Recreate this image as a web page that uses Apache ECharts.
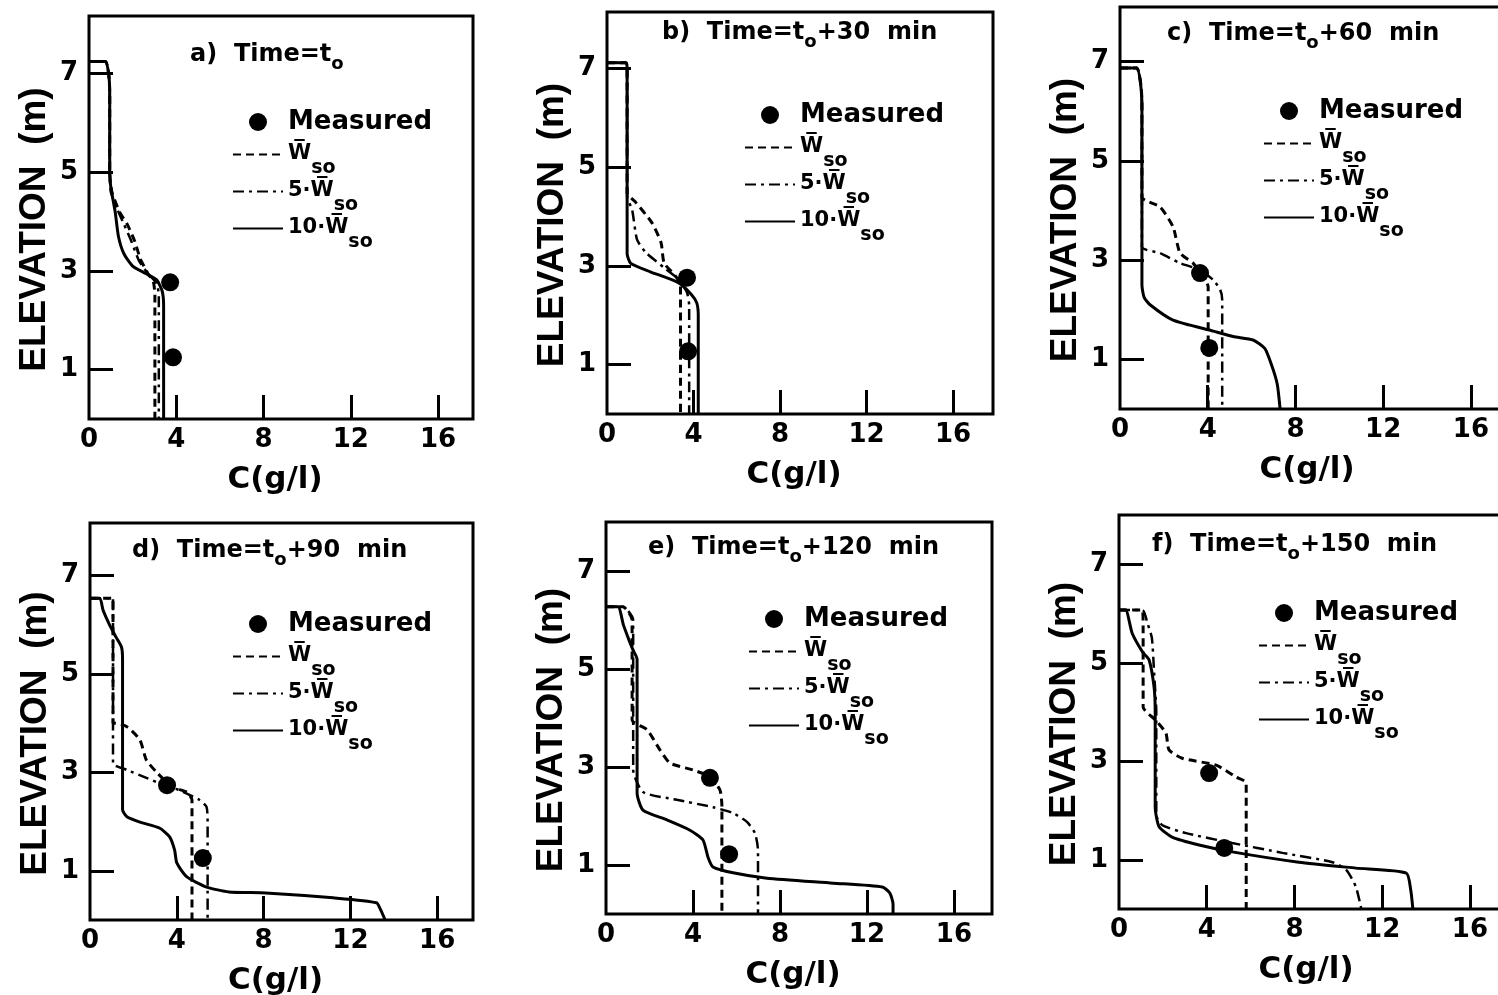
<!DOCTYPE html>
<html>
<head>
<meta charset="utf-8">
<script src="https://cdn.jsdelivr.net/npm/echarts@6/dist/echarts.min.js"></script>
<style>html,body{margin:0;padding:0;background:#fff}#c{width:1498px;height:995px}</style>
</head>
<body>
<div id="c"></div>
<script>
// ---- data: [C (g/l), elevation (m)] ----
const xTickLabels = [0, 4, 8, 12, 16];
const yTickLabels = [1, 3, 5, 7];
const panelLetters = ['a', 'b', 'c', 'd', 'e', 'f'];
const panelMinutes = [null, 30, 60, 90, 120, 150];

const aMeasured = [[3.72, 2.77], [3.85, 1.25]];
const aW1  = [[0,7.25],[0.75,7.25],[0.9,7.0],[0.95,6.6],[0.95,5.0],[1.05,4.6],[1.4,4.2],[1.75,3.95],[2.1,3.6],[2.35,3.25],[2.7,2.95],[2.95,2.78],[3.02,2.5],[3.02,0]];
const aW5  = [[0,7.25],[0.75,7.25],[0.9,7.0],[0.95,6.6],[0.95,5.0],[1.0,4.6],[1.3,4.25],[1.6,3.95],[1.9,3.65],[2.3,3.2],[2.7,2.95],[3.1,2.75],[3.2,2.5],[3.2,0]];
const aW10 = [[0,7.25],[0.75,7.25],[0.9,7.0],[0.95,6.6],[0.95,5.0],[1.0,4.7],[1.2,4.2],[1.35,3.7],[1.6,3.35],[2.0,3.1],[2.6,2.95],[3.1,2.82],[3.35,2.6],[3.42,2.3],[3.42,0]];

const bMeasured = [[3.7, 2.76], [3.75, 1.27]];
const bW1  = [[0,7.11],[0.88,7.11],[0.93,7.0],[0.93,4.48],[1.34,4.28],[2.08,3.87],[2.5,3.47],[2.64,3.06],[3.19,2.78],[3.4,2.6],[3.4,0]];
const bW5  = [[0,7.11],[0.88,7.11],[0.93,7.0],[0.93,4.4],[1.16,4.14],[1.39,3.53],[1.8,3.27],[2.73,2.93],[3.33,2.72],[3.7,2.46],[3.8,2.2],[3.8,0]];
const bW10 = [[0,7.11],[0.88,7.11],[0.93,7.0],[0.93,3.25],[1.1,3.05],[2.0,2.88],[3.3,2.66],[3.9,2.42],[4.15,2.25],[4.22,2.0],[4.22,0]];

const cMeasured = [[3.65, 2.74], [4.07, 1.23]];
const cW1  = [[0,6.87],[0.76,6.87],[0.95,6.55],[1.0,6.2],[1.0,4.27],[1.83,4.07],[2.42,3.67],[2.74,3.14],[3.33,2.94],[3.8,2.66],[4.02,2.46],[4.02,0]];
const cW5  = [[0,6.87],[0.76,6.87],[0.95,6.55],[1.0,6.2],[1.0,3.27],[1.83,3.14],[2.74,2.94],[3.65,2.8],[4.25,2.6],[4.57,2.4],[4.66,2.2],[4.66,0]];
const cW10 = [[0,6.87],[0.76,6.87],[0.95,6.5],[1.0,6.0],[1.0,2.5],[1.1,2.25],[1.37,2.1],[2.42,1.79],[4.25,1.57],[5.16,1.46],[6.07,1.39],[6.6,1.22],[6.9,0.9],[7.17,0.5],[7.3,0]];

const dMeasured = [[3.55, 2.74], [5.2, 1.26]];
const dW1  = [[0,6.54],[1.06,6.54],[1.06,4.0],[1.15,4.0],[1.7,3.93],[2.3,3.66],[2.6,3.25],[3.1,2.99],[3.8,2.7],[4.45,2.6],[4.7,2.44],[4.7,0]];
const dW5  = [[0,6.54],[1.06,6.54],[1.06,3.19],[1.7,3.05],[2.6,2.89],[3.2,2.78],[4.1,2.64],[5.05,2.44],[5.37,2.3],[5.42,2.0],[5.42,0]];
const dW10 = [[0,6.54],[0.45,6.54],[0.6,6.3],[0.9,6.0],[1.2,5.75],[1.45,5.55],[1.5,5.3],[1.5,2.24],[1.7,2.1],[2.3,1.99],[3.2,1.87],[3.67,1.69],[3.9,1.42],[4.0,1.16],[4.45,0.88],[5.37,0.67],[6.4,0.57],[8.1,0.55],[11.2,0.45],[13.2,0.35],[13.4,0.2],[13.6,0]];

const eMeasured = [[4.78, 2.78], [5.66, 1.22]];
const eW1  = [[0,6.27],[0.78,6.27],[1.2,6.0],[1.2,3.96],[1.89,3.76],[2.48,3.35],[2.94,3.08],[4.0,2.94],[4.78,2.8],[5.24,2.53],[5.33,2.2],[5.33,0]];
const eW5  = [[0,6.27],[0.78,6.27],[1.25,6.0],[1.25,2.94],[1.7,2.49],[3.26,2.33],[4.92,2.18],[5.84,2.06],[6.48,1.88],[6.85,1.65],[6.99,1.3],[6.99,0]];
const eW10 = [[0,6.27],[0.55,6.27],[0.8,5.9],[1.05,5.6],[1.24,5.39],[1.43,5.2],[1.43,2.47],[1.7,2.12],[2.8,1.92],[3.86,1.71],[4.46,1.51],[4.69,1.16],[4.92,0.96],[5.84,0.84],[7.4,0.73],[10.44,0.63],[12.7,0.55],[13.05,0.43],[13.2,0.2],[13.2,0]];

const fMeasured = [[4.11, 2.76], [4.8, 1.24]];
const fW1  = [[0,6.07],[1.07,6.07],[1.1,5.7],[1.1,4.1],[1.68,3.83],[2.14,3.57],[2.28,3.23],[2.88,3.06],[4.43,2.92],[5.34,2.68],[5.8,2.56],[5.8,0]];
const fW5  = [[0,6.07],[1.07,6.07],[1.3,5.8],[1.5,5.5],[1.6,4.8],[1.7,4.0],[1.7,1.9],[1.98,1.7],[3.06,1.54],[5.16,1.34],[7.45,1.14],[9.73,0.95],[10.37,0.79],[10.8,0.45],[11.05,0]];
const fW10 = [[0,6.07],[0.3,6.07],[0.6,5.6],[1.1,5.2],[1.37,5.06],[1.6,4.5],[1.65,4.0],[1.65,2.07],[1.83,1.67],[2.42,1.46],[3.65,1.3],[5.16,1.16],[8.2,0.95],[10.8,0.83],[13.1,0.73],[13.3,0.39],[13.4,0]];

const measuredSets = [aMeasured, bMeasured, cMeasured, dMeasured, eMeasured, fMeasured];
const w1Sets  = [aW1, bW1, cW1, dW1, eW1, fW1];
const w5Sets  = [aW5, bW5, cW5, dW5, eW5, fW5];
const w10Sets = [aW10, bW10, cW10, dW10, eW10, fW10];

// ---- layout (pixels) ----
const layout = [
  {left: 89,   top: 16,  width: 384, height: 403, xmax: 17.6,  ymax: 8.17, tl: 190,  tt: 37,  ll: 232,  lt: 104},
  {left: 607,  top: 12,  width: 386, height: 402, xmax: 17.85, ymax: 8.14, tl: 662,  tt: 15,  ll: 744,  lt: 97},
  {left: 1120, top: 7,   width: 386, height: 402, xmax: 17.6,  ymax: 8.1,  tl: 1167, tt: 16,  ll: 1263, lt: 93},
  {left: 90,   top: 523, width: 383, height: 397, xmax: 17.65, ymax: 8.07, tl: 132,  tt: 533, ll: 232,  lt: 606},
  {left: 606,  top: 522, width: 386, height: 392, xmax: 17.75, ymax: 8.0,  tl: 648,  tt: 530, ll: 748,  lt: 601},
  {left: 1119, top: 515, width: 386, height: 394, xmax: 17.6,  ymax: 8.0,  tl: 1152, tt: 527, ll: 1258, lt: 595}
];

const FONT = 'DejaVu Sans';
const OVER = 'W\u0305';
const legendText = {
  'Measured': '{m|Measured}',
  'Wso': '{w|' + OVER + '}{s|so}',
  '5Wso': '{w|5\u00B7' + OVER + '}{s|so}',
  '10Wso': '{w|10\u00B7' + OVER + '}{s|so}'
};
const noSymbol = {color: 'rgba(0,0,0,0)', borderWidth: 0, opacity: 0};

const grids = [], xAxes = [], yAxes = [], titles = [], legends = [], series = [];
layout.forEach((L, i) => {
  grids.push({left: L.left, top: L.top, width: L.width, height: L.height, show: true,
    outerBoundsMode: 'none', containLabel: false,
    borderColor: '#000', borderWidth: 3, backgroundColor: 'transparent'});
  xAxes.push({gridIndex: i, type: 'value', min: 0, max: L.xmax,
    axisLine: {show: false}, splitLine: {show: false},
    axisTick: {show: true, inside: true, length: 24, customValues: xTickLabels.filter(v => v > 0),
      lineStyle: {color: '#000', width: 3}},
    axisLabel: {customValues: xTickLabels, fontSize: 26, fontWeight: 'bold', fontFamily: FONT, color: '#000', margin: 8},
    name: 'C(g/l)', nameLocation: 'middle', nameGap: 45,
    nameTextStyle: {fontSize: 31, fontWeight: 'bold', fontFamily: FONT, color: '#000', padding: [0, 12, 0, 0]}});
  yAxes.push({gridIndex: i, type: 'value', min: 0, max: L.ymax,
    axisLine: {show: false}, splitLine: {show: false},
    axisTick: {show: true, inside: true, length: 24, customValues: yTickLabels,
      lineStyle: {color: '#000', width: 3}},
    axisLabel: {customValues: yTickLabels, fontSize: 26, fontWeight: 'bold', fontFamily: FONT, color: '#000', margin: 11},
    name: 'ELEVATION  (m)', nameLocation: 'middle', nameGap: 36,
    nameTextStyle: {fontSize: 37, fontWeight: 'bold', fontFamily: 'Liberation Sans', color: '#000', padding: [0, 24, 0, 0]}});
  const mins = panelMinutes[i];
  const txt = '{a|' + panelLetters[i] + ')  Time=t}{s|o}' + (mins ? '{a|+' + mins + '  min}' : '');
  titles.push({left: L.tl, top: L.tt, padding: 0, text: txt,
    textStyle: {rich: {
      a: {fontSize: 24, fontWeight: 'bold', fontFamily: FONT, color: '#000', lineHeight: 36},
      s: {fontSize: 18, fontWeight: 'bold', fontFamily: FONT, color: '#000', lineHeight: 18, verticalAlign: 'bottom'}
    }}});
  legends.push({left: L.ll, top: L.lt - 1, orient: 'vertical', padding: 0, itemGap: -10,
    itemWidth: 50, itemHeight: 18, selectedMode: false,
    data: [
      {name: 'Measured'},
      {name: 'Wso', itemStyle: noSymbol},
      {name: '5Wso', itemStyle: noSymbol},
      {name: '10Wso', itemStyle: noSymbol}
    ],
    formatter: n => legendText[n],
    textStyle: {color: '#000', lineHeight: 35, rich: {
      m: {fontSize: 26, fontWeight: 'bold', fontFamily: FONT, color: '#000', lineHeight: 35, padding: [6, 0, 6, 0]},
      w: {fontSize: 21, fontWeight: 'bold', fontFamily: FONT, color: '#000', lineHeight: 35, padding: [0, 0, 2, 0]},
      s: {fontSize: 19, fontWeight: 'bold', fontFamily: FONT, color: '#000', lineHeight: 35, padding: [28, 0, 0, 0]}
    }}});
  const common = {xAxisIndex: i, yAxisIndex: i, silent: true, animation: false};
  series.push(Object.assign({type: 'line', name: 'Wso', data: w1Sets[i], symbol: 'none', smooth: 0.2,
    lineStyle: {color: '#000', width: 3, type: [8, 5]}, itemStyle: {color: '#000'}}, common));
  series.push(Object.assign({type: 'line', name: '5Wso', data: w5Sets[i], symbol: 'none', smooth: 0.2,
    lineStyle: {color: '#000', width: 2.5, type: [11, 5, 3, 5]}, itemStyle: {color: '#000'}}, common));
  series.push(Object.assign({type: 'line', name: '10Wso', data: w10Sets[i], symbol: 'none', smooth: 0.2,
    lineStyle: {color: '#000', width: 3, type: 'solid'}, itemStyle: {color: '#000'}}, common));
  series.push(Object.assign({type: 'scatter', name: 'Measured', data: measuredSets[i], symbol: 'circle',
    symbolSize: 18, itemStyle: {color: '#000', opacity: 1}, z: 5}, common));
});

const chart = echarts.init(document.getElementById('c'), null, {renderer: 'canvas'});
chart.setOption({
  backgroundColor: '#fff',
  animation: false,
  title: titles,
  legend: legends,
  grid: grids,
  xAxis: xAxes,
  yAxis: yAxes,
  series: series
});
</script>
</body>
</html>
